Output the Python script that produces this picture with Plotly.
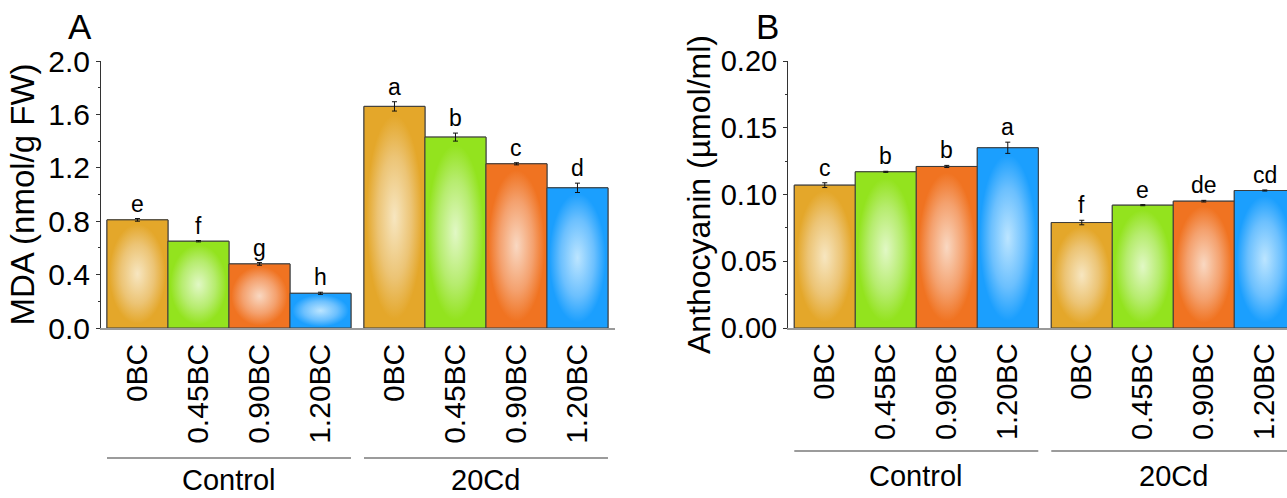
import plotly.graph_objects as go

# ---------------- data ----------------
treatments = ["0BC", "0.45BC", "0.90BC", "1.20BC"]
groups = ["Control", "20Cd"]

mda_control = [0.81, 0.65, 0.48, 0.26]
mda_cd = [1.66, 1.43, 1.23, 1.05]
mda_control_err = [0.010, 0.005, 0.010, 0.008]
mda_cd_err = [0.035, 0.030, 0.008, 0.035]
mda_control_letters = ["e", "f", "g", "h"]
mda_cd_letters = ["a", "b", "c", "d"]

anth_control = [0.107, 0.117, 0.121, 0.135]
anth_cd = [0.079, 0.092, 0.095, 0.103]
anth_control_err = [0.0018, 0.0004, 0.0008, 0.0042]
anth_cd_err = [0.0017, 0.0004, 0.0006, 0.0004]
anth_control_letters = ["c", "b", "b", "a"]
anth_cd_letters = ["f", "e", "de", "cd"]

# ---------------- style ----------------
FONT = "Liberation Sans, Arial, sans-serif"
edge_colors = ["#e4a72a", "#93e31e", "#f07321", "#1b9ffe"]
center_colors = ["#f7e6c0", "#e1f8c5", "#f9d8c2", "#bce5ff"]
mid_colors = ["#ecc475", "#b6ec6e", "#f4a16e", "#6cc0fe"]
outline = "#3c3c3c"
GROUP_GAP = 0.213  # extra gap between the two groups (in bar widths)

n = len(treatments)
positions = [i for i in range(n)] + [i + n + GROUP_GAP for i in range(n)]
tick_text = treatments + treatments
bar_colors = mid_colors + mid_colors

fig = go.Figure()


def add_panel(xa, ya, values, errs, letters, fs_letter):
    # base bars (solid), drawn first
    fig.add_trace(go.Bar(
        x=positions, y=values, width=1.0,
        marker=dict(color=bar_colors, line=dict(color=outline, width=1)),
        xaxis=xa, yaxis=ya, showlegend=False, hoverinfo="skip"))
    # gradient shading on each bar
    for i, (p, v) in enumerate(zip(positions, values)):
        k = i % n
        fig.add_trace(go.Scatter(
            x=[p - 0.5, p + 0.5, p + 0.5, p - 0.5, p - 0.5],
            y=[0, 0, v, v, 0],
            mode="lines", fill="toself",
            fillgradient=dict(type="radial",
                              colorscale=[[0, center_colors[k]], [0.55, mid_colors[k]],
                                          [0.92, edge_colors[k]], [1, edge_colors[k]]]),
            line=dict(color=outline, width=1),
            xaxis=xa, yaxis=ya, showlegend=False, hoverinfo="skip"))
    # error bars
    fig.add_trace(go.Scatter(
        x=positions, y=values, mode="markers",
        marker=dict(size=1, color="rgba(0,0,0,0)"),
        error_y=dict(type="data", array=errs, visible=True, color="#111111", thickness=1, width=2.5),
        xaxis=xa, yaxis=ya, showlegend=False, hoverinfo="skip"))
    # significance letters
    for p, v, e, t in zip(positions, values, errs, letters):
        fig.add_annotation(x=p, y=v + e, xref=xa, yref=ya, text=t, showarrow=False,
                           yanchor="bottom", xanchor="center", yshift=0,
                           font=dict(family=FONT, size=fs_letter, color="black"))


add_panel("x", "y", mda_control + mda_cd, mda_control_err + mda_cd_err,
          mda_control_letters + mda_cd_letters, 23)
add_panel("x2", "y2", anth_control + anth_cd, anth_control_err + anth_cd_err,
          anth_control_letters + anth_cd_letters, 23)

W, H = 1287, 498
ML, MR, MT, MB = 101, 0, 61, 170
PW = W - ML - MR
PH = H - MT - MB

dA0, dA1 = 0.0, 514 / PW
dB0, dB1 = 687 / PW, 1.0


def xaxis_common(fs):
    return dict(
        tickmode="array", tickvals=positions, ticktext=tick_text, tickangle=-90,
        ticks="", ticklabelstandoff=2, showgrid=False, zeroline=False,
        showline=True, linecolor="#9a9a9a", linewidth=1.5,
        tickfont=dict(family=FONT, size=fs, color="black"))


def yaxis_common(fs, dtick, minor, fmt, rng):
    return dict(
        range=rng, dtick=dtick, tick0=0, tickformat=fmt, ticks="outside", ticklen=4,
        tickcolor="#333333", tickwidth=1,
        minor=dict(ticks="outside", ticklen=2, dtick=minor, tickcolor="#333333"),
        showgrid=False, zeroline=False, showline=True, linecolor="#333333", linewidth=1,
        tickfont=dict(family=FONT, size=fs, color="black"))


fig.update_layout(
    width=W, height=H, margin=dict(l=ML, r=MR, t=MT, b=MB, pad=0),
    plot_bgcolor="white", paper_bgcolor="white",
    font=dict(family=FONT, color="black"),
    barmode="overlay",
    xaxis=dict(domain=[dA0, dA1], range=[-0.598, 7.828], anchor="y", **xaxis_common(30)),
    xaxis2=dict(domain=[dB0, dB1], range=[-0.603, -0.603 + 499 / 61.0], anchor="y2", **xaxis_common(29)),
    yaxis=dict(anchor="x", domain=[0, 1],
               title=dict(text="MDA (nmol/g FW)", font=dict(family=FONT, size=33), standoff=3),
               **yaxis_common(30, 0.4, 0.2, ".1f", [0, 2.0])),
    yaxis2=dict(anchor="x2", domain=[0, 1],
                title=dict(text="Anthocyanin (µmol/ml)", font=dict(family=FONT, size=32), standoff=0),
                **yaxis_common(29, 0.05, 0.025, ".2f", [0, 0.20])),
)

# group brackets (lines) and group labels
def group_marks(xa, line_y_px, label_y_px, fs):
    ly = (MT + PH - line_y_px) / PH
    ty = (MT + PH - label_y_px) / PH
    for g in range(len(groups)):
        x0 = positions[g * n] - 0.5
        x1 = positions[g * n + n - 1] + 0.5
        fig.add_shape(type="line", xref=xa, yref="paper", x0=x0, x1=x1, y0=ly, y1=ly,
                      line=dict(color="#7a7a7a", width=1.5))
        fig.add_annotation(x=(x0 + x1) / 2, y=ty, xref=xa, yref="paper", text=groups[g],
                           showarrow=False, yanchor="middle", xanchor="center",
                           font=dict(family=FONT, size=fs, color="black"))


group_marks("x", 458, 480, 29)
group_marks("x2", 451, 476, 29)

# panel letters
fig.add_annotation(x=(80 - ML) / PW, y=(MT + PH - 27) / PH, xref="paper", yref="paper",
                   text="A", showarrow=False, xanchor="center", yanchor="middle",
                   font=dict(family=FONT, size=35, color="black"))
fig.add_annotation(x=(767 - ML) / PW, y=(MT + PH - 27) / PH, xref="paper", yref="paper",
                   text="B", showarrow=False, xanchor="center", yanchor="middle",
                   font=dict(family=FONT, size=35, color="black"))

fig.write_html("out.html")
